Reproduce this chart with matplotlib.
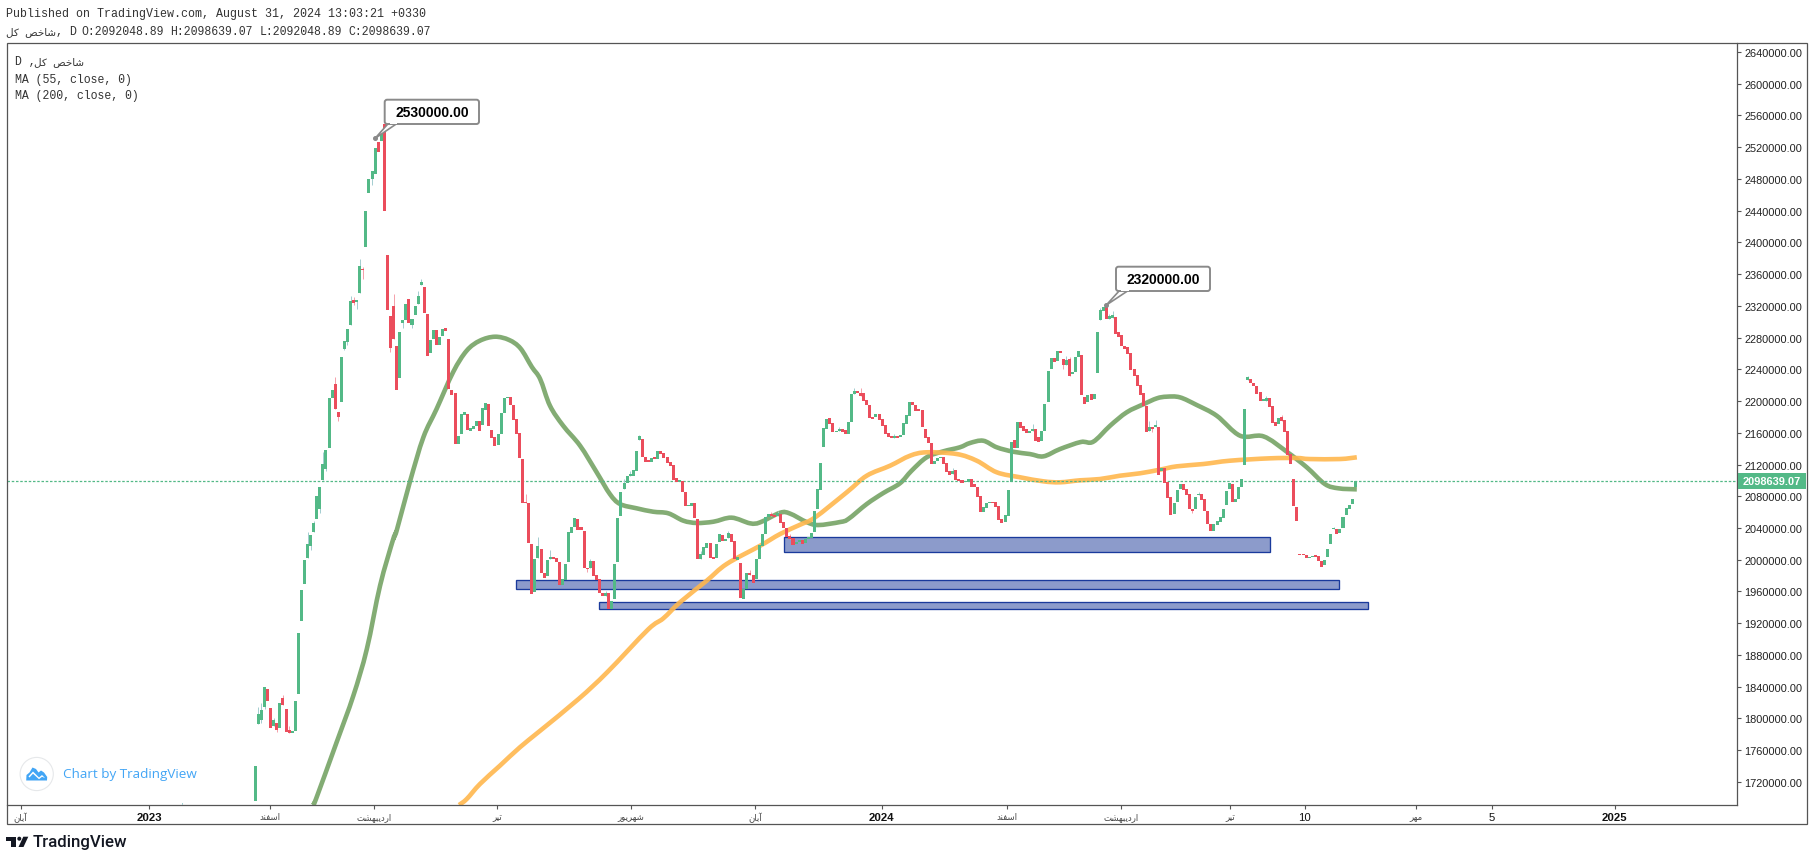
import matplotlib
matplotlib.use("Agg")
import matplotlib.pyplot as plt
from matplotlib.patches import Rectangle, Circle, Polygon, FancyBboxPatch, PathPatch
from matplotlib.path import Path
from matplotlib.transforms import Affine2D

# ------------------ data (prices in thousands, bars by slot index) ------------------
opens = [1696,1793,1798,1814.3,1837,1813,1790,1794,1788,1825.7,
1812,1785,1781,1784,1831,1922.7,1969.4,2002,2017,2035,
2051,2064,2100,2114,2141,2204,2221.5,2186,2199,2265.6,
2274,2296,2328,2325,2336,2366.5,2394,2462,2480,2486.2,
2526.6,2527.8,2549.3,2384,2307,2319.8,2269.4,2229,2298.4,2302,
2328.7,2296,2308.5,2322.4,2346.3,2343.8,2309.8,2260.6,2278.3,2289.6,
2270.7,2282,2292,2278.3,2214,2210,2146,2158.5,2182,2183.7,
2162,2164.8,2168.6,2175,2170,2188.7,2196,2163.5,2154.7,2144.6,
2158.5,2185,2203.8,2205,2195,2177.4,2159.7,2127,2072.7,2071.5,
2019.8,1959.3,2002,2013.5,1983.2,1979.5,2000.9,2003.4,2002,1997,
1968,1974.4,1997,2033.6,2041.2,2051.3,2041.2,2036,1989.5,1989.5,
1998.4,1980.7,1975.2,1958,1954.2,1958,1937.8,1950.5,1997,2055,
2089,2096.7,2105.5,2105.5,2111.8,2151,2152,2129.5,2125.7,2123,
2129.5,2127,2137,2134.5,2129.5,2123,2119.4,2103,2098,2099.2,
2085.3,2067.7,2067.7,2071.5,2051.3,2000.9,2006,2014.8,2021,2003.4,
2002,2022.3,2031,2023.6,2027.4,2032.4,2023.6,2000,1995.8,1950.5,
1963,1983.2,1980.7,1975.7,2000.9,2017.3,2032.4,2053.8,2057.6,2056.3,
2055,2057.6,2047.5,2040,2029.9,2027.4,2019.8,2022.3,2024.8,2021,
2026,2027.4,2034.9,2063.9,2087.9,2142.1,2164.8,2178.6,2172.3,2161,
2162.3,2164.8,2163.5,2158.5,2173.6,2208.9,2212.7,2210,2210,2201.3,
2195,2179.9,2179.9,2183.7,2177.4,2169.8,2159.7,2156,2154,2156,
2154.7,2157.2,2171,2181,2198.8,2195,2190,2188.7,2164.8,2154.7,
2147,2120.6,2124.4,2128.2,2129.5,2121.9,2111.8,2108,2113,2101.7,
2100.5,2098,2098,2101.7,2095.4,2091.6,2080.3,2060,2065.1,2071.5,
2072.7,2072.7,2067.7,2051.3,2047.5,2055,2097.9,2150.9,2140.8,2173.6,
2168.5,2164.7,2159.7,2162.2,2164.7,2154.7,2149.6,2162.2,2198.8,2240.4,
2254.2,2250.5,2263,2253,2245.4,2253,2234,2236.6,2255.5,2258,
2205,2198.8,2208.9,2202.6,2235.3,2302,2313.4,2319.8,2303.4,2304.6,
2305.9,2287,2283.2,2269.3,2268,2260.5,2240.3,2232.8,2220.2,2210,
2193.7,2162.2,2167.2,2167.2,2167.2,2111.8,2115.5,2097.9,2079,2057.6,
2072.7,2089,2095.4,2089,2082.8,2063.9,2063.9,2081.5,2082.8,2076.5,
2061.3,2045,2036,2043.7,2047.5,2052.5,2068.9,2089,2095.4,2072.7,
2076.5,2091.6,2119.3,2226.5,2227.7,2222.7,2218.9,2211.3,2200,2200.2,
2203.8,2193.7,2173.5,2171,2179.8,2176,2162.2,2133.2,2101.7,2066.4,
2007,2007,2005.9,2002,2003,2005.9,2004.6,1998.3,1993.2,2003.3,
2019.8,2038.6,2038.6,2033.6,2039.9,2056.3,2063.9,2070.1,2092.05]

closes = [1740,1805.5,1810.6,1839.5,1822,1788,1798,1785,1819.4,1817,
1783,1781,1784,1822,1907.6,1961.8,2000,2019.8,2031,2046,
2080,2091.7,2120.7,2138,2204,2214,2190,2180,2256,2276,
2291,2326,2324,2328,2370,2365.7,2439.6,2480.4,2490,2519,
2514,2536.7,2439.6,2314.8,2267,2278,2214,2287,2302,2322.4,
2298.4,2303.4,2320,2332.4,2350,2311,2256.8,2277,2289.6,2270.7,
2280.8,2290.8,2288.4,2215,2207.6,2146,2156,2183.7,2186,2163.5,
2166,2168.6,2174.9,2162,2191.3,2197.6,2168.6,2153.4,2143.4,2158.5,
2185,2203.8,2204.7,2195,2176,2158.5,2128.2,2071.5,2071.5,2021,
1956.8,2000.9,2017.3,1983.2,1977,1999.6,2003.4,2000.9,1997,1968,
1975.7,1994.6,2034.9,2041.2,2052.6,2037.4,2037.4,1989.5,1988.3,1998.4,
1979.5,1974.4,1958,1954.2,1958,1937.8,1948,1994.6,2052.6,2085.3,
2096.7,2105.5,2108,2113,2137,2156,2129.5,2123,2123,2128.2,
2127,2137,2133.3,2128,2122,2118,2100.5,2098,2100.5,2085.3,
2067.7,2069,2071.5,2052.6,2000.9,2007.2,2016,2021,2002,2000.9,
2019.8,2032.4,2023.6,2026,2033.7,2022.3,2000.9,2003.4,1951.7,1963,
1983.2,1980.7,1970.6,2000.9,2018.5,2032.4,2053.8,2057.6,2055,2053.8,
2059,2046.3,2040,2028.6,2026,2018.5,2022.3,2024.8,2019.8,2026,
2028.6,2033.7,2061.4,2089,2121.9,2166,2177.4,2171,2161,2162.3,
2164.8,2161,2158.5,2173.6,2208.9,2212.7,2210,2206.4,2200,2195,
2178.6,2177.4,2183.7,2176,2168,2158.5,2154.7,2153.4,2156,2153.4,
2157,2172.3,2182.4,2198.8,2195,2187.4,2187.4,2167.3,2153.4,2147,
2120.6,2124.4,2128.2,2129.5,2120.6,2110.5,2106.8,2111.8,2100.5,2099.2,
2096.7,2099.2,2101.7,2091.6,2091.6,2079,2060,2066.4,2071.5,2072.7,
2071.5,2066.4,2050,2046.3,2056.3,2087.8,2148.4,2140.8,2173.6,2166,
2162.2,2159.7,2162.2,2164.7,2149.6,2148.4,2162.2,2196.3,2237.9,2254.2,
2249.2,2263,2260.5,2245.4,2251.7,2231.6,2236,2255.5,2263,2207.6,
2196.3,2207.6,2201.3,2208.9,2287,2314.7,2318.5,2303.4,2307,2308.4,
2284.5,2280.7,2269.3,2265.5,2259.2,2239,2231.5,2218.9,2207.6,2193.7,
2160.9,2167.2,2164.7,2169.7,2106.7,2115.5,2096.6,2077.7,2056.3,2071.4,
2087.8,2095.4,2087.8,2081.5,2063.9,2061.3,2079,2082.8,2075.2,2061.3,
2045,2036,2045,2048.7,2053.8,2063.9,2086.5,2096.6,2072.7,2076.5,
2091.6,2101.7,2189.9,2230.2,2222.7,2218.9,2208.8,2200,2202.5,2203.8,
2192.4,2172.3,2168.5,2178.6,2174.8,2160.9,2131.9,2120.6,2067.6,2048.7,
2005.5,2005.5,2002,2003,2004.2,2003.3,1998.3,1990.7,1999.6,2013.4,
2032.3,2039.9,2032.3,2038.6,2053.8,2065.1,2068.9,2076.5,2098.639]

# Long wicks only: slot, high, low
wick_slots = [1,2,3,6,7,9,11,17,18,19,21,22,23,26,27,29,30,31,32,33,34,35,38,44,45,48,51,53,54,
              88,92,96,108,109,114,120,122,125,145,154,161,168,170,174,190,195,197,
              208,227,253,263,264,265,275,278,279,291,292,293,305,307,323,329,334,351]
wick_high = [1814,1819.4,1839.5,1800.5,1794,1829.5,1790.4,2035,2031,2048.8,2091.7,2135.8,2138,2230.3,2186,2276,2291,2332.9,2331.2,2328,2379.1,2369,2490,2307,2335,2302,2303.4,2338.8,2353.9,
             2082.8,2028.6,2012.2,1989.5,2000.9,1960.6,2101.7,2111.8,2157.2,2011,2036.2,1987,2060.1,2061.4,2032.4,2167.3,2216.5,2216.5,
             2158.4,2115.6,2171,2253,2256.8,2255.5,2317.2,2309.7,2313.4,2174.8,2167.2,2176,2063.9,2085.3,2231.5,2206.3,2182.3,2041]
wick_low = [1793,1794,1812,1790,1783,1817,1781,2002,2012.2,2035,2059,2100,2111.8,2190,2174.9,2264.4,2270.7,2296,2321.1,2316,2336,2353.9,2472.4,2261.9,2278,2292.1,2292.1,2322.4,2346.3,
            2071.5,2002,2000.9,1984.5,1989.5,1954.2,2089,2105.5,2151,2000.9,2027.4,1980.7,2055,2055,2026,2162.3,2208.9,2206.4,
            2154,2108,2162.2,2240.4,2245.4,2231.6,2302,2303.4,2304.6,2162.2,2160.9,2167.2,2058.8,2081.5,2226.5,2200.2,2174.8,2038.6]

# the wick of an older, off-scale bar just pokes above the time axis
stub_slot, stub_high = -23.9, 1693.5

ma55_slots = [18.8,19.75,26.5,31.9,36.3,40.6,44.9,46,50.3,54.7,59,64.4,68.8,73.1,78,82.6,86.3,90,92.7,95.9,100.2,105.7,111.1,115.4,118.7,
              124.1,129.5,134.4,139.3,143.7,149.1,155,161,164.3,170.8,174,179.4,183.2,190.3,193,199,204.4,209.8,213.6,218.5,
              223.9,229.3,232.6,236.9,241.3,246.7,252.1,256.5,261.9,268.7,272.7,278.2,283.6,289,293.4,296.6,300.9,306.4,312.9,
              320.5,328.1,335.7,342.2,348.1,352.5,358.5]
ma55_values = [1690.8,1698.3,1770.2,1828.5,1887.4,1967.2,2026.1,2036.5,2097.9,2154.3,2190,2236.6,2263.5,2276.1,2281.1,2277,2266.4,2243,2227.8,2194.1,2168.9,2143.7,2110.2,2082.8,2070.2,
               2064.8,2060.5,2058.5,2049.2,2046.3,2047.9,2053,2045.9,2047.1,2059.2,2058.2,2047.5,2043.7,2047.5,2051.3,2070.2,2084.1,2096.3,2112.2,2129.1,
               2136.6,2141.7,2147.1,2150,2141.7,2136.1,2133.2,2130.3,2139.5,2148.4,2148.7,2168.9,2185.8,2195.9,2203.4,2205.5,2204.7,2195,2181.5,
               2156.3,2155.5,2136.1,2116.5,2095.4,2090,2088.7]

ma200_slots = [66.3,68.8,73.1,79.6,86.1,92.7,105.2,114.6,127.8,132.8,138.2,146.9,153.4,164.3,170.8,177.3,182.2,192.5,199,206.6,213.1,
               218.5,228.3,234.8,241.3,248.9,256.5,261.9,268.4,274.9,281.4,287.9,294.4,299.9,308.5,317.2,330.2,338.9,343.2,353,358.5]
ma200_values = [1690.8,1698.3,1717.2,1740.3,1763.5,1784.4,1824.4,1858.4,1911.9,1926.1,1946.3,1973.5,1994.6,2017.6,2032.4,2044.1,2053.4,2085,2105.9,2118.5,2131.1,
                2135.4,2133.2,2124.8,2110.2,2103.9,2098.8,2097.6,2100.1,2101.7,2105.9,2108.9,2113.5,2117.7,2120.6,2124.8,2127.8,2128.2,2126.9,2126.9,2129.1]

zone_slots = [(172.2,330.1),(84.9,352.7),(112,362)]
zone_prices = [(2009.3,2028.2),(1962.7,1974),(1937.5,1946.3)]

last_price = 2098.63907
peak_slots = [39,276.9]
peak_prices = [2531.2,2320.8]
peak_labels = ["2530000.00","2320000.00"]

y_ticks = list(range(1720,2641,40))
x_tick_slots = [-76.4,-34.6,4.8,38.6,78.7,122.3,162.6,203.9,244.6,281.7,317.2,341.6,377.7,402.4,442.4]
x_tick_labels = ["آبان","2023","اسفند","اردیبهشت","تیر","شهریور","آبان","2024","اسفند","اردیبهشت","تیر","10","مهر","5","2025"]

header_1 = "Published on TradingView.com, August 31, 2024 13:03:21 +0330"
index_name = "شاخص کل"
ohlc_fields = ["O:2092048.89","H:2098639.07","L:2092048.89","C:2098639.07"]
legend_rows = ["MA (55, close, 0)","MA (200, close, 0)"]

# ------------------ Persian shaping for drawing (matplotlib does not join letters) ------------------
FORMS = {"ا":(0xFE8D,0xFE8E),"آ":(0xFE81,0xFE82),"د":(0xFEA9,0xFEAA),"ر":(0xFEAD,0xFEAE),"و":(0xFEED,0xFEEE),
         "ب":(0xFE8F,0xFE90,0xFE91,0xFE92),"ن":(0xFEE5,0xFEE6,0xFEE7,0xFEE8),"س":(0xFEB1,0xFEB2,0xFEB3,0xFEB4),
         "ف":(0xFED1,0xFED2,0xFED3,0xFED4),"ی":(0xFBFC,0xFBFD,0xFBFE,0xFBFF),"ه":(0xFEE9,0xFEEA,0xFEEB,0xFEEC),
         "ش":(0xFEB5,0xFEB6,0xFEB7,0xFEB8),"ت":(0xFE95,0xFE96,0xFE97,0xFE98),"م":(0xFEE1,0xFEE2,0xFEE3,0xFEE4),
         "خ":(0xFEA5,0xFEA6,0xFEA7,0xFEA8),"ص":(0xFEB9,0xFEBA,0xFEBB,0xFEBC),"ک":(0xFB8E,0xFB8F,0xFB90,0xFB91),
         "ل":(0xFEDD,0xFEDE,0xFEDF,0xFEE0)}

def shape(text):
    if not any(c in FORMS for c in text):
        return text
    out = []
    for i, c in enumerate(text):
        f = FORMS.get(c)
        if f is None:
            out.append(c)
            continue
        prev = text[i-1] if i else ""
        nxt = text[i+1] if i+1 < len(text) else ""
        join_prev = prev in FORMS and len(FORMS[prev]) == 4
        join_next = nxt in FORMS and len(f) == 4
        out.append(chr(f[(1 if join_prev else 0) + (2 if join_next else 0)]))
    return "".join(reversed(out))

def smooth_line(ax, xs, ys, **kw):
    pts = list(zip(xs, ys))
    n = len(pts)
    verts, codes = [pts[0]], [Path.MOVETO]
    for i in range(n-1):
        p0, p1, p2, p3 = pts[max(i-1, 0)], pts[i], pts[i+1], pts[min(i+2, n-1)]
        verts.append((p1[0]+(p2[0]-p0[0])/6, p1[1]+(p2[1]-p0[1])/6))
        verts.append((p2[0]-(p3[0]-p1[0])/6, p2[1]-(p3[1]-p1[1])/6))
        verts.append(p2)
        codes += [Path.CURVE4]*3
    ax.add_patch(PathPatch(Path(verts, codes), fc="none", **kw))

# ------------------ figure ------------------
W, H = 1814, 862
fig = plt.figure(figsize=(W/100, H/100), dpi=100, facecolor="white")
L, R, T, B = 6.5, 1737, 43.5, 806
ax = fig.add_axes([L/W, 1-B/H, (R-L)/W, (B-T)/H])
px = Affine2D().scale(1/W, -1/H).translate(0, 1) + fig.transFigure

GREEN, RED = "#53b987", "#eb4d5c"
FRAME = "#555555"
SCALE = 1000.0

for (x0, x1), (y0, y1) in zip(zone_slots, zone_prices):
    ax.add_patch(Rectangle((x0, y0*SCALE), x1-x0, (y1-y0)*SCALE, fc="#8c9bcb", ec="#1a3a9c", lw=0.95, zorder=1))

smooth_line(ax, ma55_slots, [v*SCALE for v in ma55_values], ec="#6d9e5c", alpha=0.85, lw=3.3, zorder=2, capstyle="butt")
smooth_line(ax, ma200_slots, [v*SCALE for v in ma200_values], ec="#ffb74d", alpha=0.9, lw=3.3, zorder=2, capstyle="butt")

ax.axhline(last_price*SCALE, color=GREEN, lw=0.9, ls=(0, (2, 1.4)), zorder=2.5)

colors = [GREEN if c >= o else RED for o, c in zip(opens, closes)]
for s, hi, lo in zip(wick_slots, wick_high, wick_low):
    wc = "#a3cdd0" if colors[s] == GREEN else "#f5a0aa"
    ax.plot([s, s], [lo*SCALE, hi*SCALE], color=wc, lw=0.7, zorder=2.8, solid_capstyle="butt")
ax.plot([stub_slot, stub_slot], [1690*SCALE, stub_high*SCALE], color="#a3cdd0", lw=0.7, zorder=2.8)
slots = list(range(len(opens)))
bottoms = [min(o, c)*SCALE for o, c in zip(opens, closes)]
heights = [max(abs(c-o), 1.3)*SCALE for o, c in zip(opens, closes)]
ax.bar(slots, heights, bottom=bottoms, width=0.98, color=colors, linewidth=0, zorder=3)

ax.set_xlim((L-255.3)/3.0726, (R-255.3)/3.0726)
ax.set_ylim(1690.8*SCALE, (2640+9.5*1.2606)*SCALE)

ax.yaxis.tick_right()
ax.set_yticks([t*SCALE for t in y_ticks])
ax.set_yticklabels([f"{t*SCALE:.2f}" for t in y_ticks], fontsize=7.9, family="Liberation Sans", color="#222222")
ax.tick_params(axis="y", length=3, width=0.8, color=FRAME, pad=2.2)
ax.set_xticks(x_tick_slots)
ax.set_xticklabels([shape(t) for t in x_tick_labels])
for lab, raw in zip(ax.get_xticklabels(), x_tick_labels):
    if raw[0].isascii():
        big = len(raw) == 4
        lab.set(family="Liberation Sans", fontsize=8.2, color="#111111", fontweight="bold" if big else "normal")
    else:
        lab.set(family="DejaVu Sans", fontsize=6.2, color="#444444")
ax.tick_params(axis="x", length=3, width=0.8, color=FRAME, pad=2.0)
for s in ("top", "left"):
    ax.spines[s].set_visible(False)
ax.spines["right"].set(color=FRAME, lw=0.9)
ax.spines["bottom"].set(color=FRAME, lw=0.9)

# outer frame
fig.add_artist(Rectangle((L, T), 1807-L, 825-T, transform=px, fc="none", ec=FRAME, lw=0.9, zorder=5))

# price tag
fig.add_artist(Rectangle((1737.5, 474), 68, 16, transform=px, fc=GREEN, ec="none", zorder=6))
fig.text(1771.5/W, 1-482.3/H, f"{last_price*SCALE:.2f}", color="white", fontsize=7.9, fontweight="bold",
         family="Liberation Sans", ha="center", va="center", zorder=7)

# callouts
boxes = [(384.7, 100.7, 94.3, 24.3), (1116, 267.7, 94, 24.3)]
for s, p, lab, (bx, by, bw, bh) in zip(peak_slots, peak_prices, peak_labels, boxes):
    tipx = L + (s - ax.get_xlim()[0]) / (ax.get_xlim()[1]-ax.get_xlim()[0]) * (R-L)
    ylim = ax.get_ylim()
    tipy = B - (p*SCALE - ylim[0]) / (ylim[1]-ylim[0]) * (B-T)
    ax.plot([s], [p*SCALE], "o", ms=2.6, color="#8a8a8a", zorder=6, clip_on=False)
    fig.add_artist(Polygon([(bx+4, by+bh-1), (tipx, tipy), (bx+13, by+bh-1)], closed=True, transform=px,
                           fc="white", ec="#8a8a8a", lw=1.2, zorder=6))
    fig.add_artist(FancyBboxPatch((bx+2, by+2), bw-4, bh-4, boxstyle="round,pad=2,rounding_size=2.5", transform=px,
                                  fc="white", ec="#8a8a8a", lw=1.4, zorder=6.5))
    fig.add_artist(Rectangle((bx+5, by+bh-4), 7.5, 4.0, transform=px, fc="white", ec="none", zorder=6.7))
    fig.text((bx+bw/2)/W, 1-(by+bh/2)/H, lab, fontsize=10, fontweight="bold", color="black",
             family="Liberation Sans", ha="center", va="center", zorder=7)

# header and legend
MONO = ["Liberation Mono", "DejaVu Sans"]
def mono(x, y, s, size=8.4):
    fig.text(x/W, 1-y/H, s, fontsize=size, family=MONO, color="#333333", ha="left", va="center")
mono(6, 14.5, header_1)
mono(6, 32, shape(index_name), size=7.5)
mono(56, 32, ", D")
for x, field in zip([81, 170, 259.3, 348.3], ohlc_fields):
    mono(x, 32, field, size=8.3)
mono(15, 62, "D ,", size=8.3)
mono(34, 62, shape(index_name), size=7.5)
mono(15, 79.5, legend_rows[0], size=8.3)
mono(15, 96.5, legend_rows[1], size=8.3)

# Chart by TradingView badge
fig.add_artist(Circle((36.7, 775), 16.6, transform=px, fc="white", ec="#e6e8ea", lw=0.8, zorder=4))
fig.add_artist(Polygon([(26.2, 781.5), (26.5, 776), (29.5, 773.5), (32.5, 768.5), (36, 770), (38.5, 773.5), (41, 771.5), (44, 773.5), (47.2, 778), (47, 781.5)],
                       closed=True, transform=px, fc="#42a5f5", ec="none", zorder=4.5))
fig.add_artist(Polygon([(28.5, 777.5), (33, 772.5), (39, 778.5), (42, 776), (45, 779), (42, 777.8), (39, 780.2), (33, 774.7), (29.5, 778.5)],
                       closed=True, transform=px, fc="white", ec="none", zorder=4.7))
fig.text(63/W, 1-774.5/H, "Chart by TradingView", fontsize=9.7, family="Open Sans", color="#42a5f5", ha="left", va="center")

# TradingView footer logo and word
DARK = "#131722"
fig.add_artist(Polygon([(6, 837.7), (16, 837.7), (16, 848), (11, 848), (11, 841.7), (6, 841.7)], closed=True, transform=px, fc=DARK, ec="none"))
fig.add_artist(Circle((19.3, 839.7), 2, transform=px, fc=DARK, ec="none"))
fig.add_artist(Polygon([(23.3, 837.7), (28.3, 837.7), (23.5, 848), (18.5, 848)], closed=True, transform=px, fc=DARK, ec="none"))
fig.text(33/W, 1-843/H, "TradingView", fontsize=12.2, family="Roboto", fontweight="medium", color=DARK, ha="left", va="center")

fig.savefig("out.png", dpi=100, facecolor="white")
